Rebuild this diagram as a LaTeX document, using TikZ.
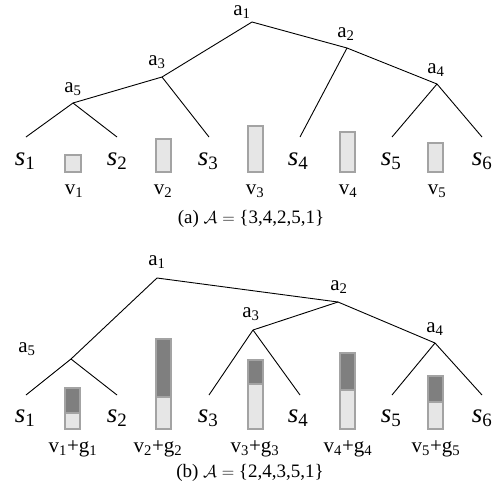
\documentclass[tikz,border=0pt]{standalone}
\usepackage{fontspec}
\setmainfont{Liberation Serif}
\definecolor{barlight}{HTML}{E6E6E6}
\definecolor{bardark}{HTML}{7F7F7F}
\definecolor{barline}{HTML}{A3A3A3}
\newcommand\singlebar[4]{%
  \draw[barframe, fill=barlight] (#1,#3) rectangle (#2,#4);}
\newcommand\stackbar[5]{%
  \fill[bardark] (#1,#3) rectangle (#2,#4);
  \fill[barlight] (#1,#4) rectangle (#2,#5);
  \draw[barframe] (#1,#3) rectangle (#2,#5);
  \draw[barframe] (#1,#4) -- (#2,#4);}
\newcommand\lab[2]{#1\textsubscript{#2}}
\begin{document}
\begin{tikzpicture}[x=1pt,y=-1pt,
  edge/.style={line width=0.9pt},
  albl/.style={font=\fontsize{21}{23}\selectfont, inner sep=0pt},
  slbl/.style={font=\fontsize{27}{29}\selectfont, inner sep=0pt},
  vlbl/.style={font=\fontsize{21}{23}\selectfont, inner sep=0pt},
  captxt/.style={font=\fontsize{19}{21}\selectfont, inner sep=0pt},
  barframe/.style={draw=barline, line width=1.3pt},
]
\useasboundingbox (0,0) rectangle (500,495);

% ---------------- (a) ----------------
\coordinate (aA1) at (252,22);
\coordinate (aA2) at (347,48);
\coordinate (aA3) at (162,77);
\coordinate (aA4) at (437,84);
\coordinate (aA5) at (73,103);
\coordinate (aS1) at (26,137);
\coordinate (aS2) at (117,137);
\coordinate (aS3) at (209,137);
\coordinate (aS4) at (300,137);
\coordinate (aS5) at (392,137);
\coordinate (aS6) at (482,137);

\draw[edge] (aA1) -- (aA3);
\draw[edge] (aA1) -- (aA2);
\draw[edge] (aA3) -- (aA5);
\draw[edge] (aA3) -- (aS3);
\draw[edge] (aA5) -- (aS1);
\draw[edge] (aA5) -- (aS2);
\draw[edge] (aA2) -- (aS4);
\draw[edge] (aA2) -- (aA4);
\draw[edge] (aA4) -- (aS5);
\draw[edge] (aA4) -- (aS6);

\node[albl] (aL1) at (242,12.5) {\lab{a}{1}};
\node[albl] (aL2) at (346,34) {\lab{a}{2}};
\node[albl] (aL3) at (157,62) {\lab{a}{3}};
\node[albl] (aL4) at (436,70) {\lab{a}{4}};
\node[albl] (aL5) at (73,89) {\lab{a}{5}};

\node[slbl] (asl1) at (25,161) {\lab{\textit{s}}{1}};
\node[slbl] (asl2) at (117,161) {\lab{\textit{s}}{2}};
\node[slbl] (asl3) at (208,161) {\lab{\textit{s}}{3}};
\node[slbl] (asl4) at (298,161) {\lab{\textit{s}}{4}};
\node[slbl] (asl5) at (391,161) {\lab{\textit{s}}{5}};
\node[slbl] (asl6) at (482,161) {\lab{\textit{s}}{6}};

\singlebar{65}{81}{155}{172}
\singlebar{156}{171}{139}{172}
\singlebar{248}{263}{126}{172}
\singlebar{340}{355}{132}{172}
\singlebar{428}{443}{143}{172}

\node[vlbl] (avl1) at (74,191) {\lab{v}{1}};
\node[vlbl] (avl2) at (163,191) {\lab{v}{2}};
\node[vlbl] (avl3) at (255,191) {\lab{v}{3}};
\node[vlbl] (avl4) at (348,191) {\lab{v}{4}};
\node[vlbl] (avl5) at (437,191) {\lab{v}{5}};

\node[captxt] (capa) at (251,219) {(a) $\mathcal{A}=$ \{3,4,2,5,1\}};

% ---------------- (b) ----------------
\coordinate (bA1) at (157,278);
\coordinate (bA2) at (338,302);
\coordinate (bA3) at (253,330);
\coordinate (bA4) at (435,343);
\coordinate (bA5) at (71,359);
\coordinate (bS1) at (26,395);
\coordinate (bS2) at (117,395);
\coordinate (bS3) at (209,395);
\coordinate (bS4) at (300,395);
\coordinate (bS5) at (392,395);
\coordinate (bS6) at (482,395);

\draw[edge] (bA1) -- (bA5);
\draw[edge] (bA1) -- (bA2);
\draw[edge] (bA2) -- (bA3);
\draw[edge] (bA2) -- (bA4);
\draw[edge] (bA3) -- (bS3);
\draw[edge] (bA3) -- (bS4);
\draw[edge] (bA4) -- (bS5);
\draw[edge] (bA4) -- (bS6);
\draw[edge] (bA5) -- (bS1);
\draw[edge] (bA5) -- (bS2);

\node[albl] (bL1) at (157,262) {\lab{a}{1}};
\node[albl] (bL2) at (339,287) {\lab{a}{2}};
\node[albl] (bL3) at (251,314) {\lab{a}{3}};
\node[albl] (bL4) at (435,329) {\lab{a}{4}};
\node[albl] (bL5) at (27,349) {\lab{a}{5}};

\node[slbl] (bsl1) at (25,418) {\lab{\textit{s}}{1}};
\node[slbl] (bsl2) at (117,418) {\lab{\textit{s}}{2}};
\node[slbl] (bsl3) at (208,418) {\lab{\textit{s}}{3}};
\node[slbl] (bsl4) at (298,418) {\lab{\textit{s}}{4}};
\node[slbl] (bsl5) at (391,418) {\lab{\textit{s}}{5}};
\node[slbl] (bsl6) at (482,418) {\lab{\textit{s}}{6}};

\stackbar{65}{80}{388}{413}{429}
\stackbar{156}{171}{339}{397}{429}
\stackbar{248}{263}{360}{384}{429}
\stackbar{340}{355}{353}{390}{429}
\stackbar{428}{443}{376}{402}{429}

\node[vlbl] (bvl1) at (73,449) {\lab{v}{1}+\lab{g}{1}};
\node[vlbl] (bvl2) at (158,449) {\lab{v}{2}+\lab{g}{2}};
\node[vlbl] (bvl3) at (255,449) {\lab{v}{3}+\lab{g}{3}};
\node[vlbl] (bvl4) at (348,449) {\lab{v}{4}+\lab{g}{4}};
\node[vlbl] (bvl5) at (436,449) {\lab{v}{5}+\lab{g}{5}};

\node[captxt] (capb) at (250,473) {(b) $\mathcal{A}=$ \{2,4,3,5,1\}};
\end{tikzpicture}
\end{document}
